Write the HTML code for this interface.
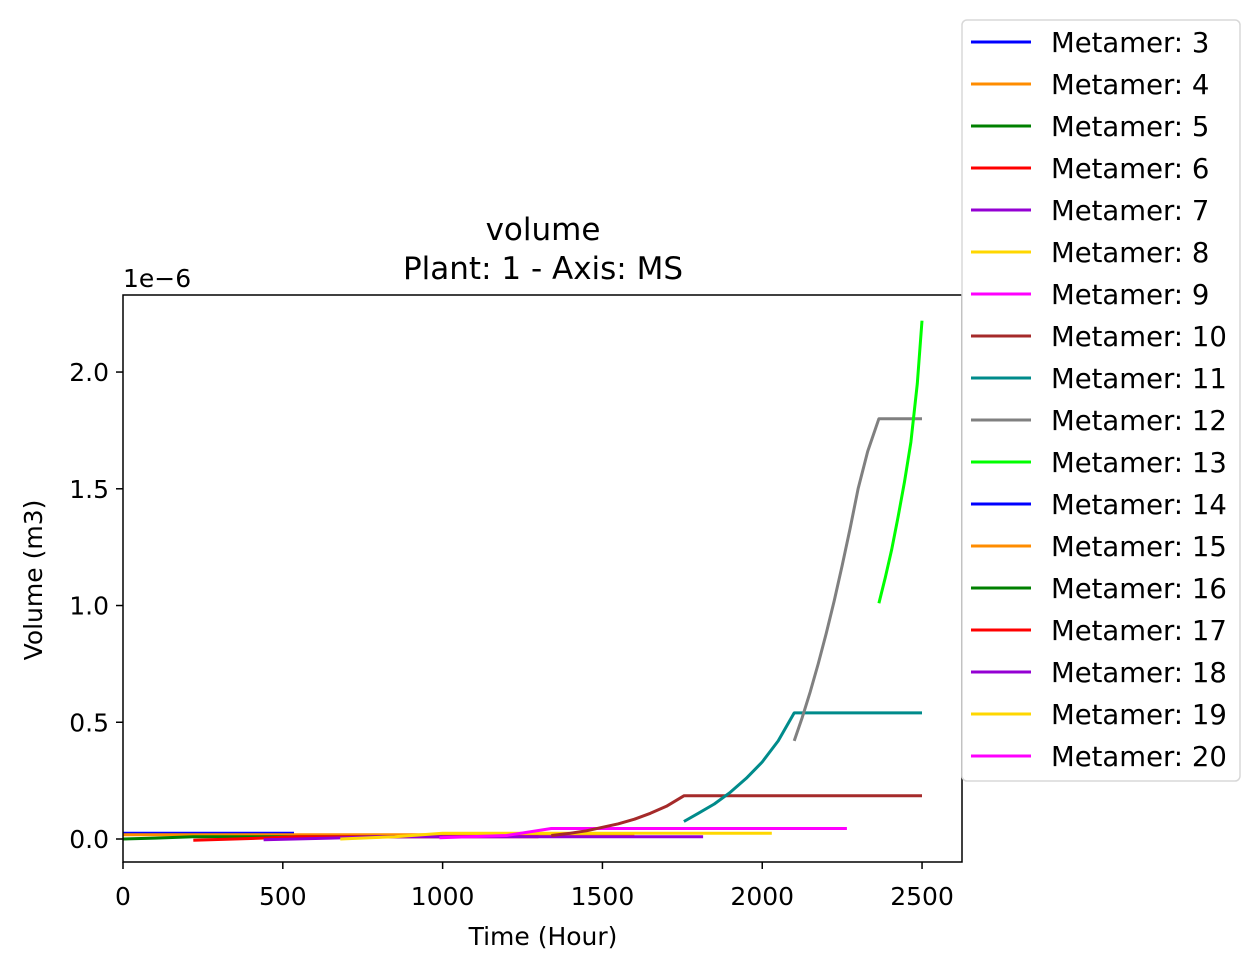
<!DOCTYPE html>
<html><head><meta charset="utf-8"><style>
body{margin:0;background:#fff;width:1259px;height:971px;overflow:hidden}
text{font-family:"DejaVu Sans","Liberation Sans",sans-serif;fill:#000}
</style></head><body>
<svg id="chart" width="1259" height="971">
<text x="543" y="240" font-size="31" text-anchor="middle">volume</text>
<text x="543" y="279" font-size="31" text-anchor="middle">Plant: 1 - Axis: MS</text>
<text x="123" y="287" font-size="25">1e−6</text>
<text x="543" y="945" font-size="25" text-anchor="middle">Time (Hour)</text>
<text transform="translate(42,580) rotate(-90)" font-size="25" text-anchor="middle">Volume (m3)</text>
<g id="plot"></g><g id="axes"></g><g id="legend"></g>
</svg>
<script>
const xTicks=[0,500,1000,1500,2000,2500];
const yTicks=[0,0.5,1.0,1.5,2.0];
const yTickLabels=["0.0","0.5","1.0","1.5","2.0"];
const names=["Metamer: 3","Metamer: 4","Metamer: 5","Metamer: 6","Metamer: 7","Metamer: 8","Metamer: 9","Metamer: 10","Metamer: 11","Metamer: 12","Metamer: 13","Metamer: 14","Metamer: 15","Metamer: 16","Metamer: 17","Metamer: 18","Metamer: 19","Metamer: 20"];
const colors=["#0000ff","#ff8c00","#008000","#ff0000","#9400d3","#ffd700","#ff00ff","#a52a2a","#008b8b","#808080","#00ff00","#0000ff","#ff8c00","#008000","#ff0000","#9400d3","#ffd700","#ff00ff"];
const s3t=[0,535],s3v=[0.025,0.025];
const s4t=[0,1600],s4v=[0.018,0.018];
const s5t=[0,100,220,1000],s5v=[0,0.004,0.01,0.01];
const s6t=[220,400,550,1300],s6v=[-0.005,0.002,0.01,0.01];
const s7t=[440,650,800,1815],s7v=[-0.003,0.004,0.01,0.01];
const s8t=[680,850,1000,2030],s8v=[0,0.01,0.025,0.025];
const s9t=[990,1200,1340,2265],s9v=[0.005,0.015,0.045,0.045];
const s10t=[1340,1400,1450,1500,1550,1600,1650,1700,1755,2500],s10v=[0.015,0.025,0.035,0.05,0.065,0.085,0.11,0.14,0.185,0.185];
const s11t=[1755,1800,1850,1900,1950,2000,2050,2100,2500],s11v=[0.075,0.11,0.15,0.2,0.26,0.33,0.42,0.54,0.54];
const s12t=[2100,2125,2150,2175,2200,2225,2250,2275,2300,2330,2365,2500],s12v=[0.42,0.52,0.63,0.75,0.88,1.02,1.17,1.33,1.5,1.66,1.8,1.8];
const s13t=[2365,2385,2405,2425,2445,2465,2485,2500],s13v=[1.01,1.12,1.24,1.38,1.53,1.7,1.95,2.22];
const seriesT=[s3t,s4t,s5t,s6t,s7t,s8t,s9t,s10t,s11t,s12t,s13t];
const seriesV=[s3v,s4v,s5v,s6v,s7v,s8v,s9v,s10v,s11v,s12v,s13v];
const X0=123,X1=962,Y0=295,Y1=862,xmin=0,xmax=2625,ymin=-0.0985,ymax=2.33;
const sx=t=>X0+(t-xmin)/(xmax-xmin)*(X1-X0);
const sy=v=>Y1-(v-ymin)/(ymax-ymin)*(Y1-Y0);
const NS="http://www.w3.org/2000/svg";
const mk=(p,tag,a)=>{const e=document.createElementNS(NS,tag);for(const k in a)e.setAttribute(k,a[k]);p.appendChild(e);return e;};
const plot=document.getElementById('plot'),axes=document.getElementById('axes'),leg=document.getElementById('legend');
seriesT.forEach((ts,i)=>{
 const d=ts.map((t,j)=>(j?'L':'M')+sx(t).toFixed(1)+','+sy(seriesV[i][j]).toFixed(1)).join('');
 const p=mk(plot,'path',{d:d,fill:'none',stroke:colors[i],'stroke-width':3,'stroke-linejoin':'round'});
 
 
});
const fr=mk(axes,'rect',{x:X0,y:Y0,width:X1-X0,height:Y1-Y0,fill:'none',stroke:'#000','stroke-width':1.5});


xTicks.forEach(t=>{
 mk(axes,'line',{x1:sx(t),x2:sx(t),y1:Y1,y2:Y1+7,stroke:'#000','stroke-width':1.5});
 const tx=mk(axes,'text',{x:sx(t),y:Y1+43,'font-size':25,'text-anchor':'middle'});
 tx.textContent=t;
 
 
});
yTicks.forEach((v,i)=>{
 mk(axes,'line',{x1:X0-7,x2:X0,y1:sy(v),y2:sy(v),stroke:'#000','stroke-width':1.5});
 const tx=mk(axes,'text',{x:X0-14,y:sy(v)+9,'font-size':25,'text-anchor':'end'});
 tx.textContent=yTickLabels[i];
 
 
});
const lb=mk(leg,'rect',{x:962,y:20,width:278,height:761,rx:5,fill:'#fff',stroke:'#d8d8d8','stroke-width':1.5});


names.forEach((n,i)=>{
 const y=42+i*42;
 const g=mk(leg,'g',{});
 
 
 mk(g,'line',{x1:971,x2:1031,y1:y,y2:y,stroke:colors[i],'stroke-width':3});
 const t=mk(g,'text',{x:1051,y:y+10,'font-size':27.5});
 t.textContent=n;
});
</script>
</body></html>
